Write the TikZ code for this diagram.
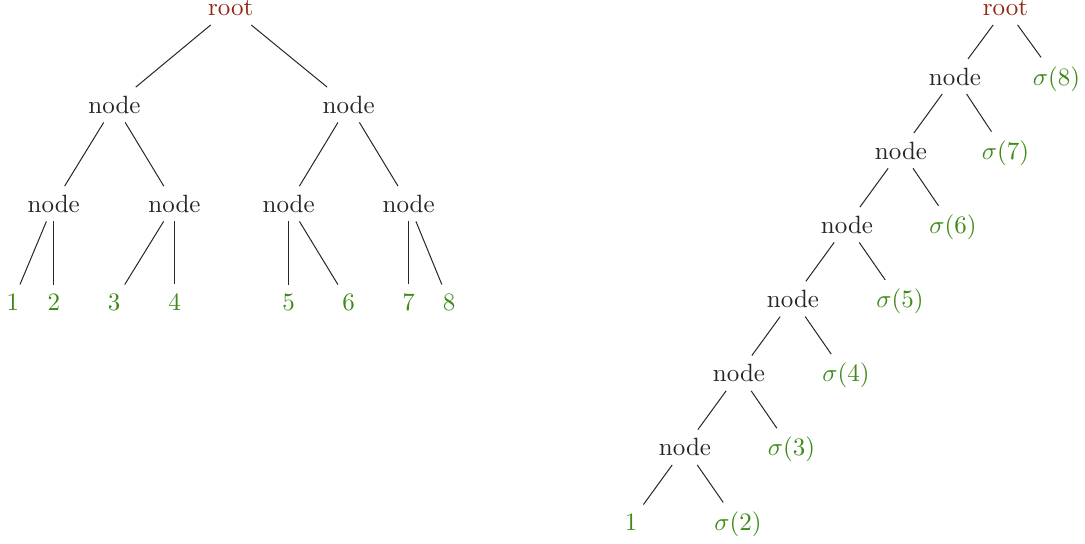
\documentclass[tikz,border=0pt]{standalone}
\definecolor{rootred}{RGB}{145,38,18}
\definecolor{leafgreen}{RGB}{62,138,22}
\definecolor{inkgray}{RGB}{38,38,38}
\begin{document}
\begin{tikzpicture}[x=0.4pt,y=-0.4pt,
  every node/.style={anchor=base,inner sep=3.333pt},
  rootnode/.style={text=rootred},
  innernode/.style={text=inkgray},
  leafnode/.style={text=leafgreen},
  edge/.style={draw=inkgray,line width=0.4pt}]
\useasboundingbox (0,0) rectangle (1085,543);
% left tree
\node[rootnode] (r) at (230.8,15.8) {root};
\node[innernode] (a) at (114.5,113.3) {node};
\node[innernode] (b) at (348.7,113.3) {node};
\node[innernode] (aa) at (53.8,212.3) {node};
\node[innernode] (ab) at (174.5,212.3) {node};
\node[innernode] (ba) at (288.7,212.3) {node};
\node[innernode] (bb) at (408.7,212.3) {node};
\node[leafnode] (l1) at (12.8,310) {1};
\node[leafnode] (l2) at (53.8,310) {2};
\node[leafnode] (l3) at (114,310) {3};
\node[leafnode] (l4) at (174.5,310) {4};
\node[leafnode] (l5) at (288.7,310) {5};
\node[leafnode] (l6) at (348.5,310) {6};
\node[leafnode] (l7) at (408.7,310) {7};
\node[leafnode] (l8) at (449,310) {8};
\draw[edge] (r) -- (a);
\draw[edge] (r) -- (b);
\draw[edge] (a) -- (aa);
\draw[edge] (a) -- (ab);
\draw[edge] (b) -- (ba);
\draw[edge] (b) -- (bb);
\draw[edge] (aa) -- (l1);
\draw[edge] (aa) -- (l2);
\draw[edge] (ab) -- (l3);
\draw[edge] (ab) -- (l4);
\draw[edge] (ba) -- (l5);
\draw[edge] (ba) -- (l6);
\draw[edge] (bb) -- (l7);
\draw[edge] (bb) -- (l8);
% right tree (comb)
\node[rootnode] (R) at (1005.5,15.8) {root};
\node[innernode] (n1) at (955,85) {node};
\node[innernode] (n2) at (901,159.2) {node};
\node[innernode] (n3) at (847,233.3) {node};
\node[innernode] (n4) at (793,307.5) {node};
\node[innernode] (n5) at (739,381.7) {node};
\node[innernode] (n6) at (685,455.8) {node};
\node[leafnode] (one) at (631,530) {1};
\node[leafnode] (s8) at (1056.5,85) {$\sigma(8)$};
\node[leafnode] (s7) at (1005.5,159.2) {$\sigma(7)$};
\node[leafnode] (s6) at (953,233.3) {$\sigma(6)$};
\node[leafnode] (s5) at (900,307.5) {$\sigma(5)$};
\node[leafnode] (s4) at (846,381.7) {$\sigma(4)$};
\node[leafnode] (s3) at (791.5,455.8) {$\sigma(3)$};
\node[leafnode] (s2) at (738,530) {$\sigma(2)$};
\draw[edge] (R) -- (n1);
\draw[edge] (R) -- (s8);
\draw[edge] (n1) -- (n2);
\draw[edge] (n1) -- (s7);
\draw[edge] (n2) -- (n3);
\draw[edge] (n2) -- (s6);
\draw[edge] (n3) -- (n4);
\draw[edge] (n3) -- (s5);
\draw[edge] (n4) -- (n5);
\draw[edge] (n4) -- (s4);
\draw[edge] (n5) -- (n6);
\draw[edge] (n5) -- (s3);
\draw[edge] (n6) -- (one);
\draw[edge] (n6) -- (s2);
\end{tikzpicture}
\end{document}
